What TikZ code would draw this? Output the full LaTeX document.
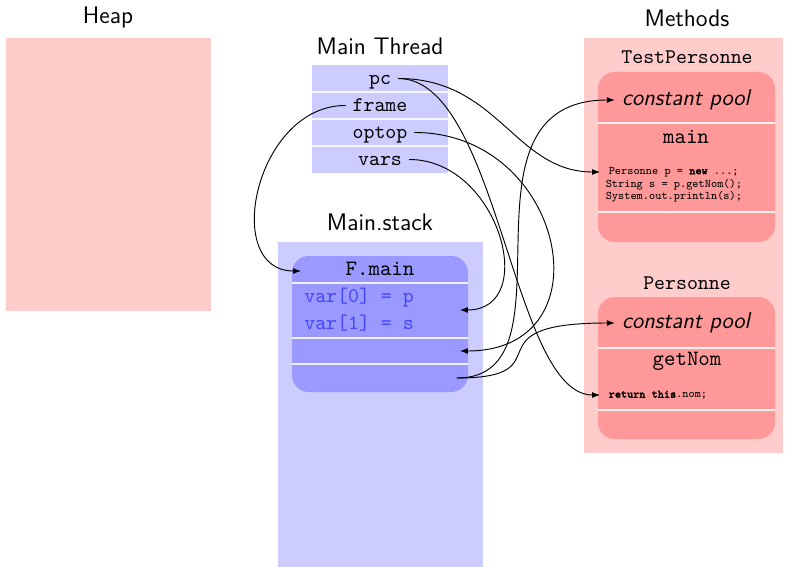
\documentclass[tikz,border=0pt]{standalone}
\usepackage{fontspec}
\newfontfamily\codebold{lmmonolt10-bold.otf}[FakeBold=2]
\usetikzlibrary{arrows.meta,positioning}
\definecolor{heapPink}{HTML}{FFCCCC}
\definecolor{stackBlue}{HTML}{CCCCFF}
\definecolor{frameBlue}{HTML}{9999FF}
\definecolor{varBlue}{HTML}{4444FF}
\definecolor{methodRed}{HTML}{FF9999}
\newcommand{\kw}[1]{{\codebold #1}}
\begin{document}
\begin{tikzpicture}[x=0.48pt,y=-0.48pt,>={Latex[length=3.8pt]},line cap=round]
\useasboundingbox (0,0) rectangle (785,567);
\tikzset{ttl/.style={font=\fontsize{11.5}{13}\selectfont\sffamily},slot/.style={font=\ttfamily,text height=1.5ex,text depth=.25ex},head/.style={font=\fontsize{10.5}{12}\selectfont\ttfamily,text height=1.5ex,text depth=.25ex},pool/.style={font=\fontsize{11}{13}\selectfont\sffamily\itshape},code/.style={font=\fontsize{5.6}{5.9}\selectfont\ttfamily,anchor=west,inner xsep=4pt,inner ysep=1pt},sep/.style={draw=white,line width=0.6pt,opacity=0.85},link/.style={draw=black,line width=0.45pt}}
\node[ttl] (heap) at (108,18) {Heap};
\path[fill=heapPink] (6,38) rectangle (211,311);
\node[ttl] (mthread) at (380,46) {Main Thread};
\path[fill=stackBlue] (312,65) rectangle (448,173);
\draw[sep] (312,92) -- (448,92); \draw[sep] (312,119) -- (448,119); \draw[sep] (312,146) -- (448,146);
\node[slot] (pc) at (380,78.5) {pc};
\node[slot] (frame) at (380,105.5) {frame};
\node[slot] (optop) at (380,132.5) {optop};
\node[slot] (vars) at (380,159.5) {vars};
\node[ttl] (mstack) at (380,222) {Main.stack};
\path[fill=stackBlue] (278,242) rectangle (483,567);
\path[fill=frameBlue,rounded corners=8pt] (292,256) rectangle (468,392);
\draw[sep] (292,283) -- (468,283); \draw[sep] (292,338) -- (468,338); \draw[sep] (292,364) -- (468,364);
\node[head] (fmain) at (380,270) {F.main};
\node[slot,anchor=west,text=varBlue] (var0) at (297,297) {var[0] = p};
\node[slot,anchor=west,text=varBlue] (var1) at (297,324) {var[1] = s};
\coordinate (fIn) at (301,271);
\coordinate (locIn) at (460,310);
\coordinate (optIn) at (460,351);
\coordinate (cpOut) at (457,378);
\node[ttl] (methods) at (687,18) {Methods};
\path[fill=heapPink] (584,38) rectangle (783,453);
\node[slot] (tpers) at (687,58) {TestPersonne};
\path[fill=methodRed,rounded corners=8pt] (598,72) rectangle (775,242);
\draw[sep] (598,123) -- (775,123); \draw[sep] (598,212) -- (775,212);
\node[pool] (cp1) at (686,100) {constant pool};
\node[head] (mmain) at (686,138) {main};
\node[code] (c1) at (600,172) {Personne p = \kw{new} ...;};
\node[code] (c2) at (597,185) {String s = p.getNom();};
\node[code] (c3) at (597,197) {System.out.println(s);};
\node[slot] (pers) at (687,284) {Personne};
\path[fill=methodRed,rounded corners=8pt] (598,297) rectangle (775,439);
\draw[sep] (598,348) -- (775,348); \draw[sep] (598,410) -- (775,410);
\node[pool] (cp2) at (686,323) {constant pool};
\node[head] (getnom) at (687,360) {getNom};
\node[code] (ret) at (600,395) {\kw{return} \kw{this}.nom;};
\draw[link,->] (pc.east) .. controls +(100,0) and +(-85,0) .. (c1.west);
\draw[link,->] (pc.east) .. controls +(100,0) and +(-88,0) .. (ret.west);
\draw[link,->] (frame.west) .. controls +(-90,0) and +(-80,0) .. (fIn);
\draw[link,->] (optop.east) .. controls +(150,0) and +(150,0) .. (optIn);
\draw[link,->] (vars.east) .. controls +(90,0) and +(80,0) .. (locIn);
\draw[link,->] (cpOut) .. controls +(125,0) and +(-170,0) .. (cp1.west);
\draw[link,->] (cpOut) .. controls +(110,0) and +(-150,0) .. (cp2.west);
\end{tikzpicture}
\end{document}
